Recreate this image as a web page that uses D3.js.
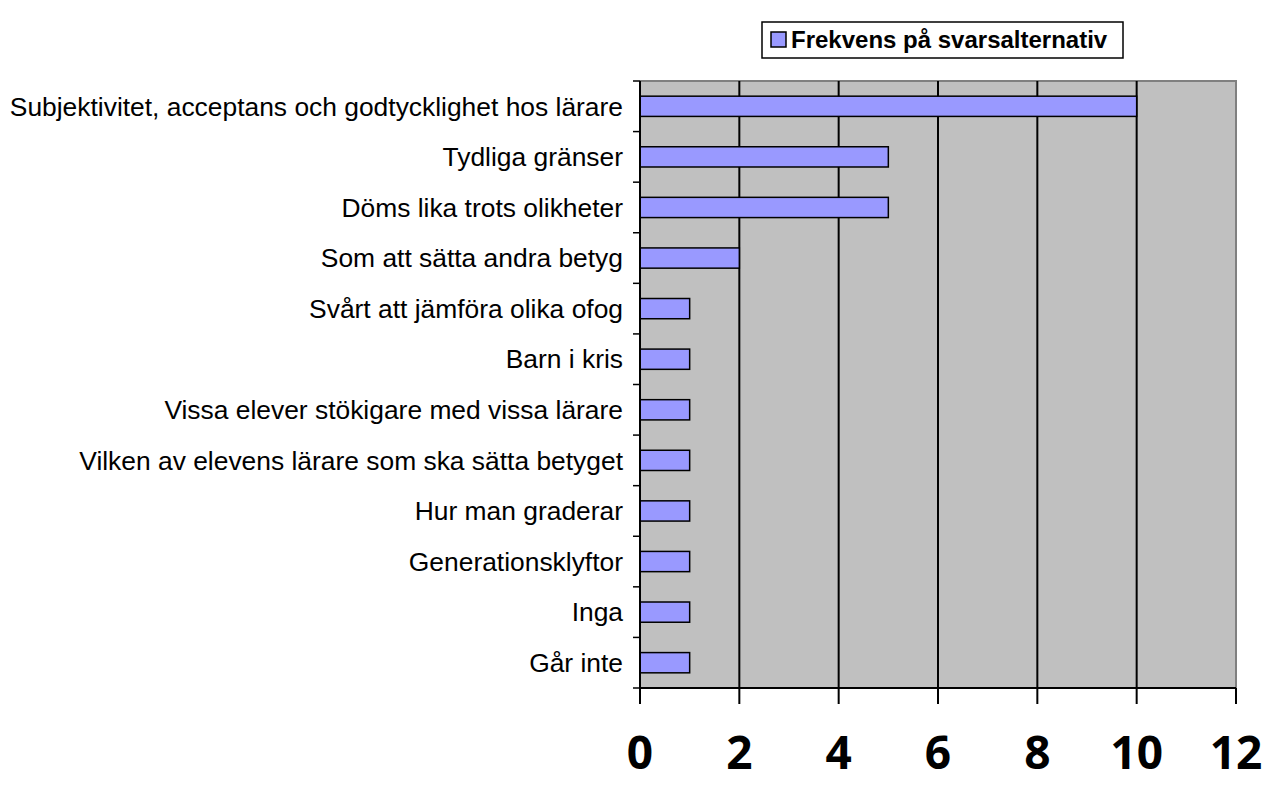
<!DOCTYPE html>
<html>
<head>
<meta charset="utf-8">
<script src="https://cdn.jsdelivr.net/npm/d3@7"></script>
<style>
  body{margin:0;background:#fff;}
  svg{display:block;}
</style>
</head>
<body>
<div id="chart"></div>
<script>
// svarsalternativ, top to bottom
let categories=["Subjektivitet, acceptans och godtycklighet hos lärare","Tydliga gränser","Döms lika trots olikheter",
    "Som att sätta andra betyg","Svårt att jämföra olika ofog","Barn i kris","Vissa elever stökigare med vissa lärare",
    "Vilken av elevens lärare som ska sätta betyget","Hur man graderar","Generationsklyftor","Inga","Går inte"];
let values=[10,5,5,2,1,1,1,1,1,1,1,1];
let xTicks=[0,2,4,6,8,10,12];
let seriesName="Frekvens på svarsalternativ";

(function(){
    let W=1264,H=787;
    let margin={top:81,left:640,right:28,bottom:99};
    let width=W-margin.left-margin.right;
    let height=H-margin.top-margin.bottom;
    let svg=d3.select("#chart").append("svg").attr("width",W).attr("height",H);

    let x=d3.scaleLinear().domain([0,12]).range([0,width]);
    let y=d3.scaleBand().domain(categories).range([0,height]).paddingInner(0.6).paddingOuter(0.3);
    let band=height/categories.length;

    let g=svg.append("g").attr("transform","translate("+margin.left+","+margin.top+")");
    // plot background
    g.append("rect").attr("width",width).attr("height",height).attr("fill","#c0c0c0");
    g.append("path").attr("d","M0,0H"+width+"V"+height).attr("fill","none").attr("stroke","#808080").attr("stroke-width",2);

    // vertical grid
    g.selectAll(".grid").data(xTicks.slice(1,-1)).enter().append("line")
        .attr("x1",d=>x(d)).attr("x2",d=>x(d)).attr("y1",0).attr("y2",height)
        .attr("stroke","#000").attr("stroke-width",2);

    // bars
    g.selectAll(".bar").data(values).enter().append("rect")
        .attr("x",x(0)).attr("y",(d,i)=>y(categories[i]))
        .attr("width",d=>x(d)).attr("height",y.bandwidth())
        .attr("fill","#9999ff").attr("stroke","#000").attr("stroke-width",1.5);

    // left axis with ticks at category borders
    g.append("line").attr("x1",0).attr("x2",0).attr("y1",0).attr("y2",height).attr("stroke","#000").attr("stroke-width",2);
    g.selectAll(".ytick").data(d3.range(categories.length+1)).enter().append("line")
        .attr("x1",-7).attr("x2",0).attr("y1",d=>d*band).attr("y2",d=>d*band)
        .attr("stroke","#000").attr("stroke-width",1.5);
    g.selectAll(".ylab").data(categories).enter().append("text")
        .attr("x",-17).attr("y",d=>y(d)+y.bandwidth()/2).attr("dy","0.35em")
        .attr("text-anchor","end")
        .style("font-family","'Liberation Sans', Arial, sans-serif").style("font-size","26.4px").attr("fill","#000")
        .text(d=>d);

    // bottom axis
    g.append("line").attr("x1",0).attr("x2",width).attr("y1",height).attr("y2",height).attr("stroke","#000").attr("stroke-width",2);
    g.selectAll(".xtick").data(xTicks).enter().append("line")
        .attr("x1",d=>x(d)).attr("x2",d=>x(d)).attr("y1",height).attr("y2",height+16)
        .attr("stroke","#000").attr("stroke-width",2);
    g.selectAll(".xlab").data(xTicks).enter().append("text")
        .attr("x",d=>x(d)).attr("y",height+81)
        .attr("text-anchor","middle")
        .style("font-family","'Open Sans', sans-serif").style("font-weight","bold").style("font-size","46px")
        .text(d=>d);

    // legend
    let lg=svg.append("g").attr("transform","translate(762,22)");
    lg.append("rect").attr("width",361).attr("height",36).attr("fill","#fff").attr("stroke","#000").attr("stroke-width",1.5);
    lg.append("rect").attr("x",9).attr("y",10).attr("width",15).attr("height",15)
        .attr("fill","#9999ff").attr("stroke","#000").attr("stroke-width",1.5);
    lg.append("text").attr("x",29).attr("y",26)
        .style("font-family","'Liberation Sans', Arial, sans-serif").style("font-weight","bold").style("font-size","24px")
        .text(seriesName);
})();
</script>
</body>
</html>
